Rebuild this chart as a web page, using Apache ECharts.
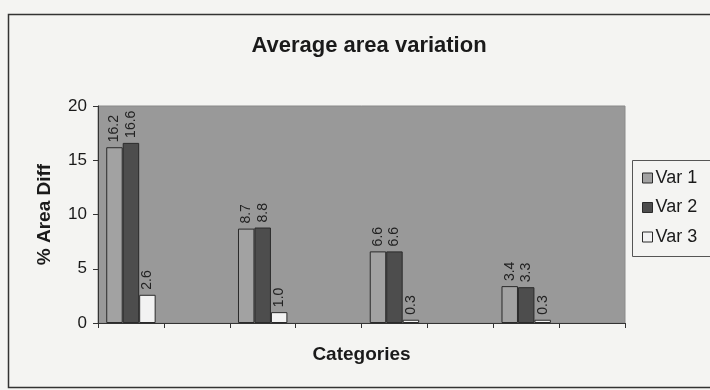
<!DOCTYPE html>
<html>
<head>
<meta charset="utf-8">
<script src="https://cdn.jsdelivr.net/npm/echarts@6/dist/echarts.min.js"></script>
<style>
html,body{margin:0;padding:0;background:#f4f4f2;}
#chart{width:710px;height:390px;}
</style>
</head>
<body>
<div id="chart"></div>
<script>
var categories = ['', '', '', '', '', '', '', ''];
var seriesNames = ['Var 1', 'Var 2', 'Var 3'];
var var1 = [16.2, null, 8.7, null, 6.6, null, 3.4, null];
var var2 = [16.6, null, 8.8, null, 6.6, null, 3.3, null];
var var3 = [2.6, null, 1.0, null, 0.3, null, 0.3, null];
var yTicks = [0, 5, 10, 15, 20];

var colors = ['#a2a2a2', '#4d4d4d', '#f2f2f2'];
var FONT = 'Liberation Sans, Arial';
var chart = echarts.init(document.getElementById('chart'));
function mk(name, data, color) {
  return {
    name: name, type: 'bar', data: data,
    barGap: '0%', barCategoryGap: '25%',
    itemStyle: {color: color, borderColor: '#2a2a2a', borderWidth: 1},
    label: {
      show: true, position: 'top', rotate: 90, align: 'left', verticalAlign: 'middle',
      distance: 5, fontFamily: FONT, fontSize: 14, color: '#222',
      formatter: function (p) { return p.value == null ? '' : p.value.toFixed(1); }
    }
  };
}
chart.setOption({
  backgroundColor: '#f4f4f2',
  animation: false,
  title: {
    text: 'Average area variation', left: 364, textAlign: 'center', top: 30,
    textStyle: {fontFamily: FONT, fontSize: 22, fontWeight: 'bold', color: '#1a1a1a'}
  },
  graphic: [
    {type: 'rect', shape: {x: 8.5, y: 14.5, width: 720, height: 373}, style: {fill: null, stroke: '#333', lineWidth: 1.5}, z: 0},
    {type: 'rect', shape: {x: 632.5, y: 160.5, width: 100, height: 96}, style: {fill: null, stroke: '#555', lineWidth: 1}, z: 10}
  ],
  legend: {
    orient: 'vertical', left: 637, top: 164, itemGap: 11.5,
    itemWidth: 10, itemHeight: 10, icon: 'rect',
    data: seriesNames,
    itemStyle: {borderColor: '#2a2a2a', borderWidth: 1},
    textStyle: {fontFamily: FONT, fontSize: 18, color: '#1a1a1a', padding: [0, 0, 0, -2]}
  },
  grid: {left: 98, right: 85, top: 106, bottom: 67, show: true, backgroundColor: '#999999', borderColor: '#8a8a8a', borderWidth: 1},
  xAxis: {
    type: 'category', data: categories,
    name: 'Categories', nameLocation: 'middle', nameGap: 22,
    nameTextStyle: {fontFamily: FONT, fontSize: 19, fontWeight: 'bold', color: '#1a1a1a'},
    axisLine: {lineStyle: {color: '#333', width: 1}},
    axisTick: {show: true, length: 5, lineStyle: {color: '#333'}},
    axisLabel: {show: false}
  },
  yAxis: {
    type: 'value', min: 0, max: 20, interval: 5,
    name: '% Area Diff', nameLocation: 'middle', nameGap: 44,
    nameTextStyle: {fontFamily: FONT, fontSize: 19, fontWeight: 'bold', color: '#1a1a1a'},
    axisLine: {show: true, lineStyle: {color: '#333', width: 1}},
    axisTick: {show: true, length: 5, lineStyle: {color: '#333'}},
    splitLine: {show: false},
    axisLabel: {fontFamily: FONT, fontSize: 17, color: '#1a1a1a', margin: 11,
      formatter: function (v) { return yTicks.indexOf(v) >= 0 ? String(v) : ''; }}
  },
  series: [mk(seriesNames[0], var1, colors[0]), mk(seriesNames[1], var2, colors[1]), mk(seriesNames[2], var3, colors[2])]
});
</script>
</body>
</html>
